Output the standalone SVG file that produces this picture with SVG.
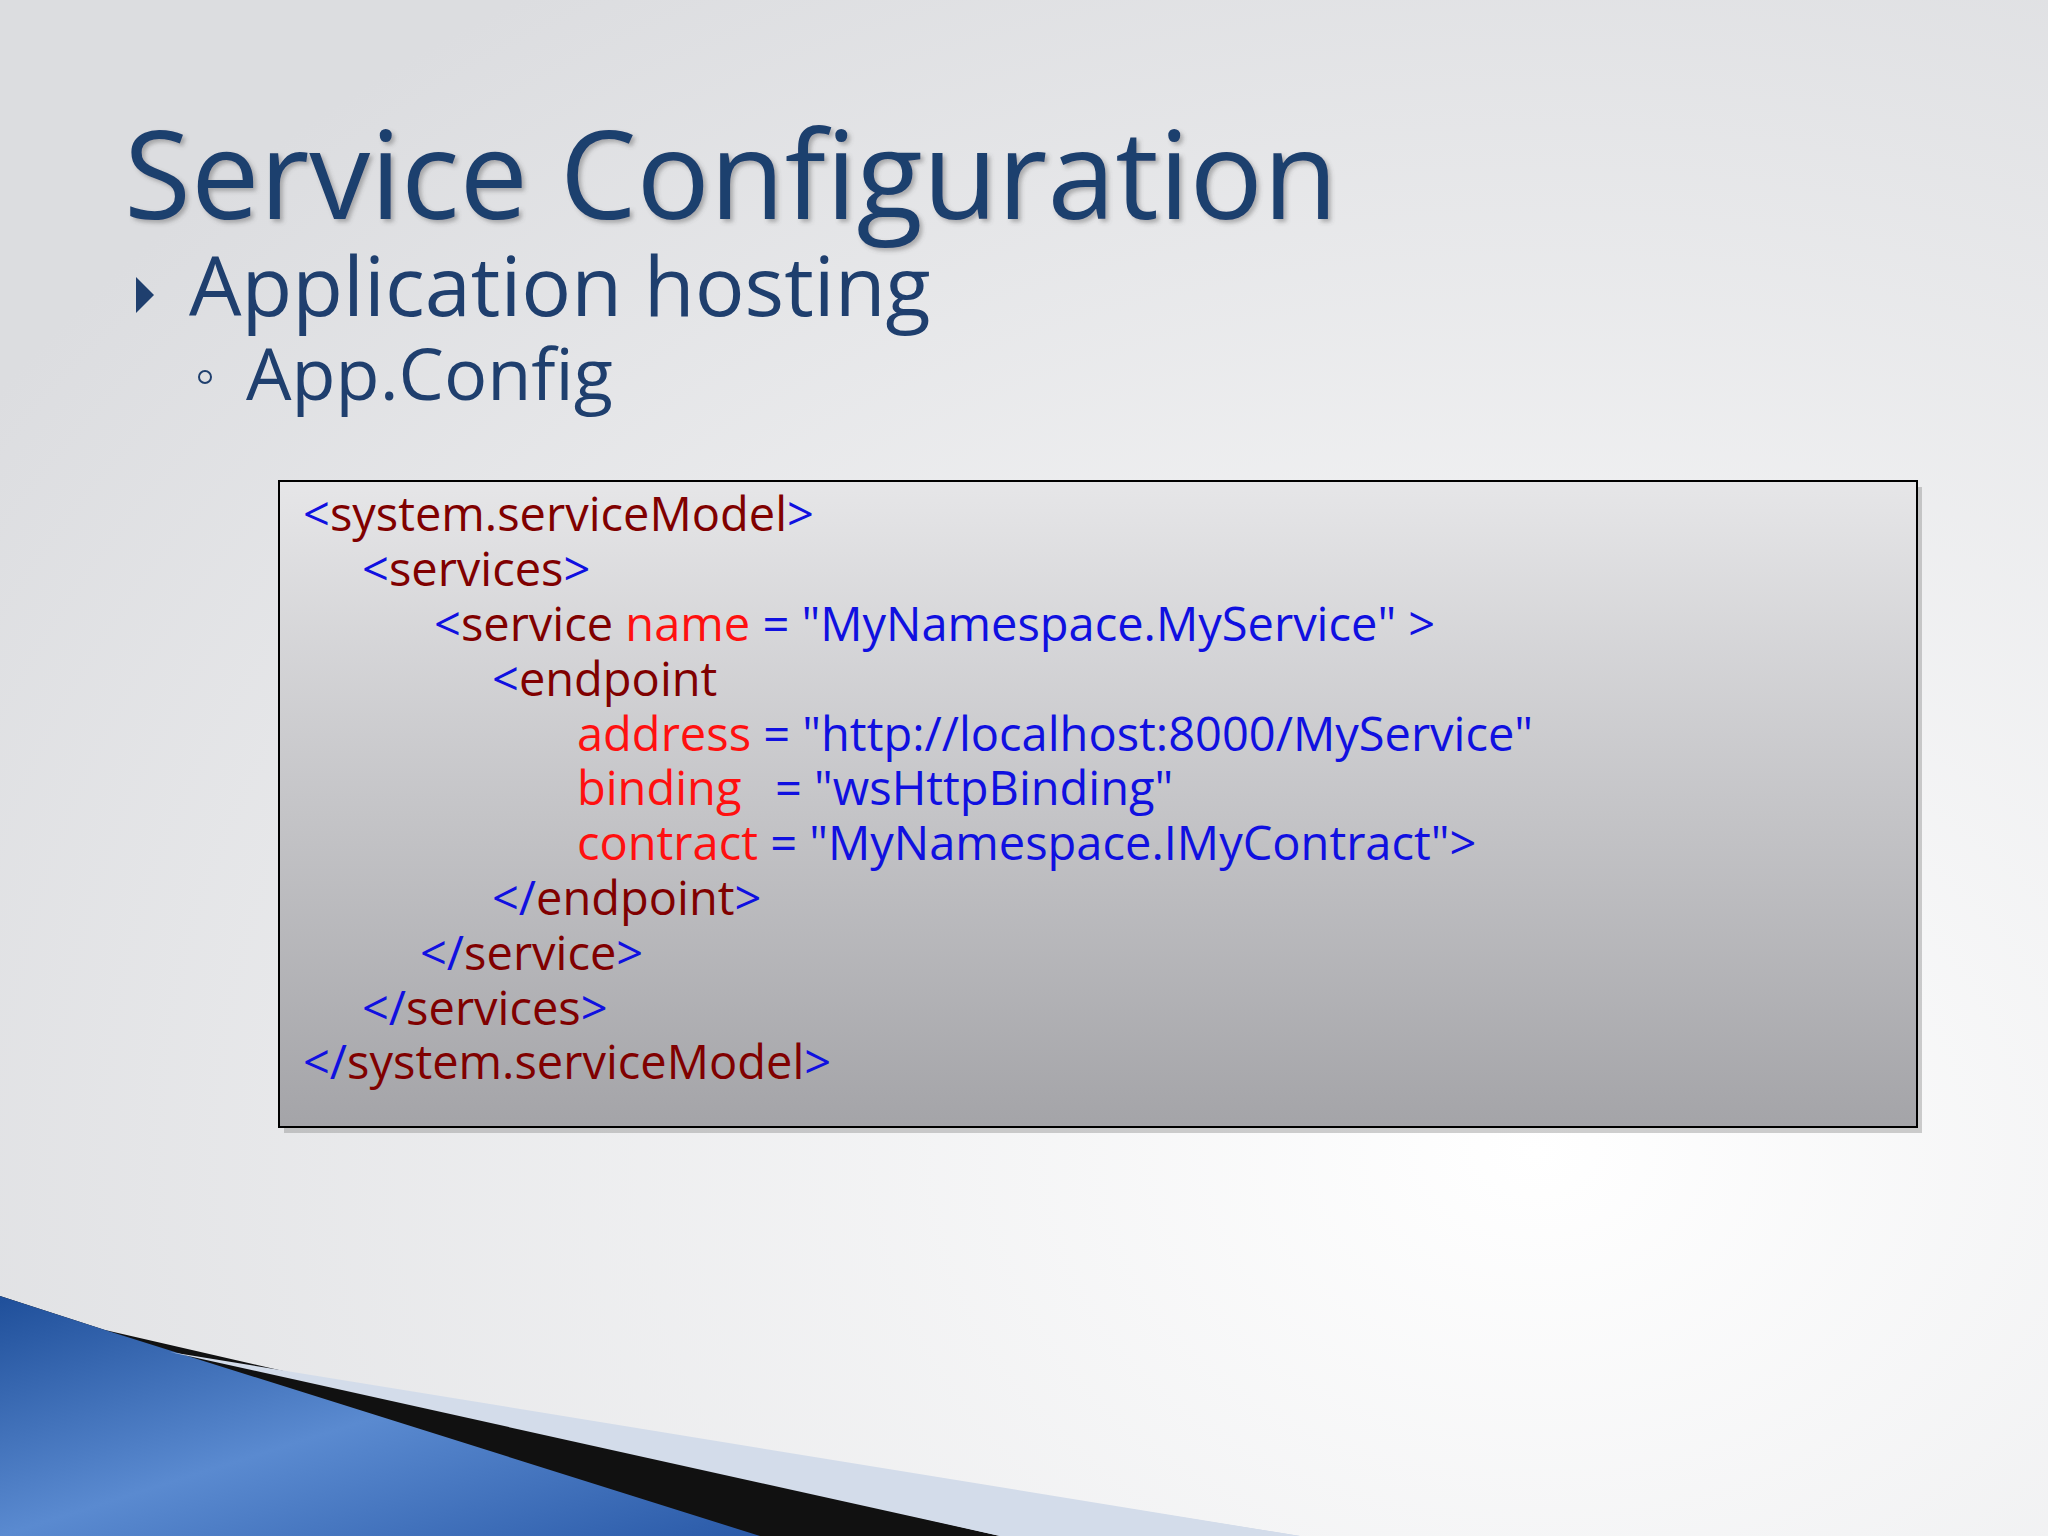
<svg xmlns="http://www.w3.org/2000/svg" width="2048" height="1536" viewBox="0 0 2048 1536">
<defs>
<radialGradient id="bg" cx="0.75" cy="0.75" r="0.9"><stop offset="0" stop-color="#ffffff"/><stop offset="1" stop-color="#dcdde0"/></radialGradient>
<linearGradient id="box" x1="0" y1="0" x2="0" y2="1"><stop offset="0" stop-color="#e6e6e8"/><stop offset="1" stop-color="#a4a4a8"/></linearGradient>
<linearGradient id="blue" x1="0" y1="0" x2="1" y2="1"><stop offset="0" stop-color="#1f4f9a"/><stop offset="0.5" stop-color="#5a8ad0"/><stop offset="1" stop-color="#2a5aa8"/></linearGradient>
<filter id="sh" x="-5%" y="-20%" width="110%" height="140%"><feDropShadow dx="3" dy="3" stdDeviation="2" flood-color="#555" flood-opacity="0.4"/></filter>
<style>
.t{font-family:"Open Sans","DejaVu Sans",sans-serif;fill:#1f3f6e}
.c{font-family:"Open Sans","Liberation Sans",sans-serif;font-size:47px;font-weight:500}
.b{fill:#1010e0}.m{fill:#800000}.r{fill:#ff1010}
</style>
</defs>
<rect width="2048" height="1536" fill="url(#bg)"/>
<g id="bottom">
<polygon points="0,1330 1300,1536 0,1536" fill="#c9d3e3"/>
<polygon points="0,1296 105,1330 1000,1536 0,1536" fill="#111"/>
<polygon points="0,1296 105,1330 760,1536 0,1536" fill="url(#blue)"/>
<polygon points="170,1352 1300,1536 1000,1536" fill="#d3dcea"/>
</g>
<g id="title">
<text x="124" y="219" class="t" font-size="122" filter="url(#sh)">Service Configuration</text>
<polygon points="136,277 154,295 136,313" fill="#1f3f6e"/>
<text x="189" y="316" class="t" font-size="83">Application hosting</text>
<circle cx="205" cy="377" r="6" fill="none" stroke="#1f3f6e" stroke-width="2"/>
<text x="246" y="400" class="t" font-size="72">App.Config</text>
</g>
<g id="codebox">
<rect x="284" y="487" width="1638" height="646" fill="#888" opacity="0.4"/>
<rect x="279" y="481" width="1638" height="646" fill="url(#box)" stroke="#000" stroke-width="2"/>
<text class="c">
<tspan x="303" y="531"><tspan class="b">&lt;</tspan><tspan class="m">system.serviceModel</tspan><tspan class="b">&gt;</tspan></tspan>
<tspan x="362" y="586"><tspan class="b">&lt;</tspan><tspan class="m">services</tspan><tspan class="b">&gt;</tspan></tspan>
<tspan x="434" y="641"><tspan class="b">&lt;</tspan><tspan class="m">service</tspan><tspan class="r"> name</tspan><tspan class="b"> = "MyNamespace.MyService" &gt;</tspan></tspan>
<tspan x="492" y="696"><tspan class="b">&lt;</tspan><tspan class="m">endpoint</tspan></tspan>
<tspan x="577" y="751"><tspan class="r">address</tspan><tspan class="b"> = "http://localhost:8000/MyService"</tspan></tspan>
<tspan x="577" y="805"><tspan class="r">binding</tspan><tspan class="b" x="775">= "wsHttpBinding"</tspan></tspan>
<tspan x="577" y="860"><tspan class="r">contract</tspan><tspan class="b"> = "MyNamespace.IMyContract"&gt;</tspan></tspan>
<tspan x="492" y="915"><tspan class="b">&lt;/</tspan><tspan class="m">endpoint</tspan><tspan class="b">&gt;</tspan></tspan>
<tspan x="420" y="970"><tspan class="b">&lt;/</tspan><tspan class="m">service</tspan><tspan class="b">&gt;</tspan></tspan>
<tspan x="362" y="1025"><tspan class="b">&lt;/</tspan><tspan class="m">services</tspan><tspan class="b">&gt;</tspan></tspan>
<tspan x="303" y="1079"><tspan class="b">&lt;/</tspan><tspan class="m">system.serviceModel</tspan><tspan class="b">&gt;</tspan></tspan>
</text>
</g>
</svg>
